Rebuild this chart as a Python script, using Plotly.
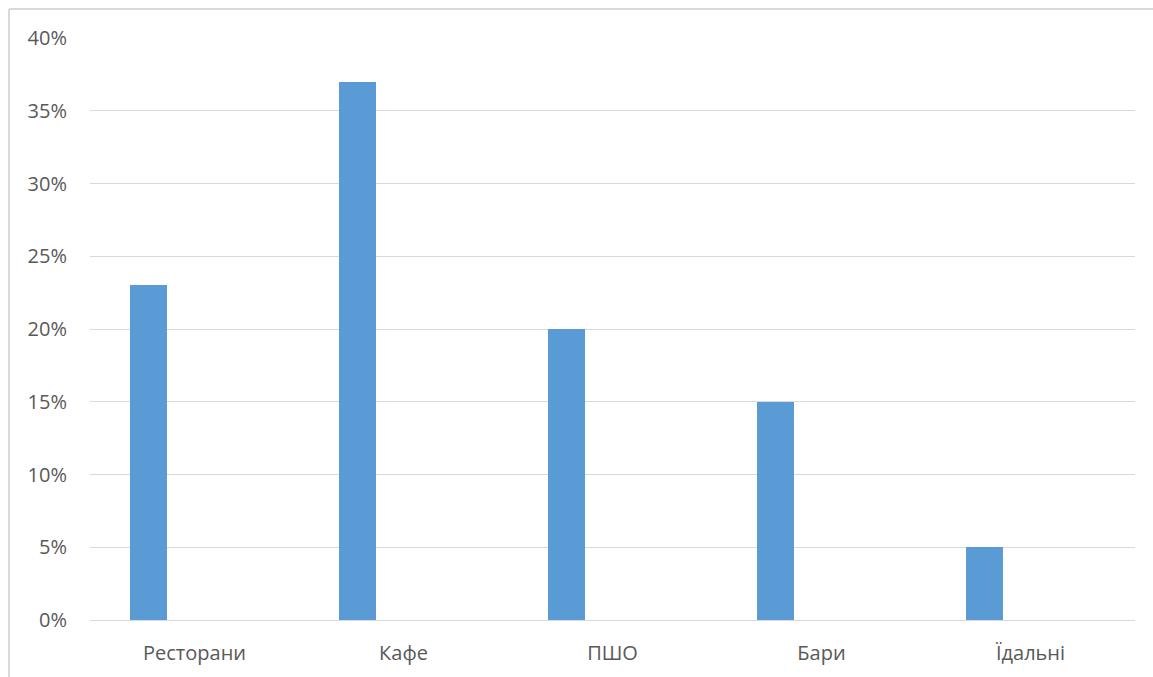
import plotly.graph_objects as go

categories = ["Ресторани", "Кафе", "ПШО", "Бари", "Їдальні"]
shares = [0.23, 0.37, 0.20, 0.15, 0.05]
y_ticks = [0, 0.05, 0.10, 0.15, 0.20, 0.25, 0.30, 0.35, 0.40]
y_tick_text = ["0%", "5%", "10%", "15%", "20%", "25%", "30%", "35%", "40%"]

W, H = 1153, 677
L, R, T, B = 90, 18, 38, 57
pw, ph = W - L - R, H - T - B

fig = go.Figure(
    go.Bar(
        x=categories,
        y=shares,
        marker=dict(color="#5b9bd5", line=dict(width=0)),
        width=0.177,
        offset=-0.309,
        hoverinfo="x+y",
    )
)

# chart frame (top and left edges of the outer border)
def px_x(p):
    return (p - L) / pw

def px_y(p):
    return (H - B - p) / ph

border = dict(color="#d9d9d9", width=2)
fig.add_shape(type="line", xref="paper", yref="paper",
              x0=px_x(9), x1=px_x(W + 5), y0=px_y(9), y1=px_y(9), line=border)
fig.add_shape(type="line", xref="paper", yref="paper",
              x0=px_x(9), x1=px_x(9), y0=px_y(9), y1=px_y(H + 5), line=border)

fig.update_layout(
    width=W,
    height=H,
    margin=dict(l=L, r=R, t=T, b=B, pad=0),
    paper_bgcolor="white",
    plot_bgcolor="white",
    showlegend=False,
    font=dict(family="Open Sans, Noto Sans, sans-serif", size=20, color="#595959"),
    bargap=0,
)
fig.update_xaxes(
    showgrid=False,
    showline=False,
    ticks="",
    ticklabelstandoff=19,
    tickfont=dict(size=20, color="#595959"),
)
fig.update_yaxes(
    range=[0, 0.4],
    tickvals=y_ticks,
    ticktext=y_tick_text,
    showgrid=True,
    gridcolor="#d9d9d9",
    gridwidth=1,
    zeroline=True,
    zerolinecolor="#d9d9d9",
    zerolinewidth=1,
    showline=False,
    ticks="",
    ticklabelstandoff=22,
    tickfont=dict(size=20, color="#595959"),
)

fig.write_html("out.html")
